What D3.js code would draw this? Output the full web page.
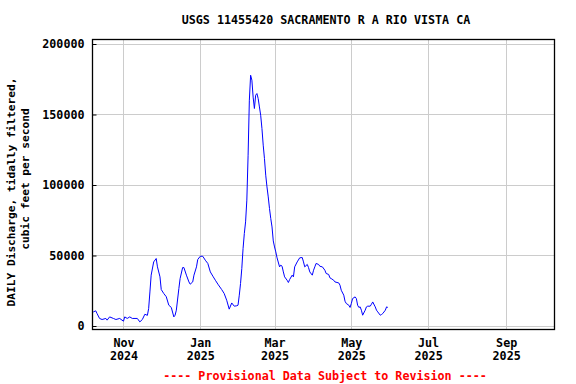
<!DOCTYPE html>
<html>
<head>
<meta charset="utf-8">
<script src="https://cdn.jsdelivr.net/npm/d3@7"></script>
<style>
  body { margin: 0; background: #fff; }
  svg text { font-family: "DejaVu Sans Mono", "Liberation Mono", monospace; font-weight: bold; }
</style>
</head>
<body>
<div id="chart"></div>
<script>
// daily mean discharge (cfs)
const dates = [
  "2024-10-08","2024-10-10","2024-10-11","2024-10-13","2024-10-15","2024-10-18","2024-10-19",
  "2024-10-21","2024-10-24","2024-10-26","2024-10-29","2024-11-01","2024-11-02","2024-11-04",
  "2024-11-06","2024-11-08","2024-11-12","2024-11-14","2024-11-16","2024-11-18","2024-11-20",
  "2024-11-21","2024-11-22","2024-11-23","2024-11-25","2024-11-27","2024-11-28","2024-11-30",
  "2024-12-01","2024-12-03","2024-12-05","2024-12-07","2024-12-09","2024-12-11","2024-12-12",
  "2024-12-13","2024-12-15","2024-12-16","2024-12-18","2024-12-19","2024-12-21","2024-12-23",
  "2024-12-24","2024-12-26","2024-12-27","2024-12-29","2024-12-30","2025-01-01","2025-01-03",
  "2025-01-05","2025-01-07","2025-01-09","2025-01-11","2025-01-13","2025-01-15","2025-01-18",
  "2025-01-20","2025-01-22","2025-01-24","2025-01-26","2025-01-28","2025-01-30","2025-01-31",
  "2025-02-01","2025-02-02","2025-02-03","2025-02-04","2025-02-05","2025-02-06","2025-02-07",
  "2025-02-08","2025-02-09","2025-02-10","2025-02-11","2025-02-12","2025-02-13","2025-02-14",
  "2025-02-15","2025-02-16","2025-02-17","2025-02-18","2025-02-19","2025-02-20","2025-02-21",
  "2025-02-22","2025-02-23","2025-02-24","2025-02-25","2025-02-26","2025-02-27","2025-02-28",
  "2025-03-01","2025-03-02","2025-03-03","2025-03-05","2025-03-06","2025-03-07","2025-03-08",
  "2025-03-09","2025-03-11","2025-03-12","2025-03-13","2025-03-15","2025-03-16","2025-03-17",
  "2025-03-19","2025-03-21","2025-03-23","2025-03-24","2025-03-25","2025-03-27","2025-03-28",
  "2025-03-29","2025-03-31","2025-04-01","2025-04-02","2025-04-03","2025-04-05","2025-04-06",
  "2025-04-08","2025-04-10","2025-04-11","2025-04-13","2025-04-14","2025-04-15","2025-04-17",
  "2025-04-18","2025-04-21","2025-04-22","2025-04-23","2025-04-25","2025-04-26","2025-04-27",
  "2025-04-29","2025-04-30","2025-05-01","2025-05-02","2025-05-04","2025-05-05","2025-05-06",
  "2025-05-07","2025-05-08","2025-05-09","2025-05-10","2025-05-12","2025-05-13","2025-05-14",
  "2025-05-16","2025-05-17","2025-05-18","2025-05-20","2025-05-21","2025-05-22","2025-05-24",
  "2025-05-25","2025-05-26","2025-05-28","2025-05-29","2025-05-30"
];
const flow = [
  9600, 10400, 8500, 5000, 4250, 5000, 3800,
  6100, 5000, 4250, 5000, 3050, 6100, 5000,
  6100, 5000, 5000, 2550, 4250, 8000, 7200,
  12000, 23800, 35700, 45100, 47500, 41600, 34500,
  25500, 22700, 20400, 14400, 12800, 6100, 7300,
  10850, 26200, 33300, 41100, 41100, 35700, 30900,
  29300, 30900, 35700, 41600, 46800, 49100, 49100,
  46300, 44000, 38000, 35000, 32100, 29300, 25500,
  22700, 17900, 11600, 16000, 13700, 14000, 14400,
  21500, 29800, 40400, 54600, 65200, 73500, 88900,
  120800, 159800, 177500, 174000, 162000, 153900, 163300,
  164500, 161000, 155000, 149100, 139700, 127900, 118400,
  106600, 98300, 91200, 83000, 75900, 69900, 60000,
  55700, 52200, 48000, 41600, 42800, 42000, 38000,
  34500, 32100, 30500, 32600, 35700, 34500, 41600,
  45100, 48000, 48200, 45100, 41600, 43300, 41100,
  38000, 35700, 39200, 41600, 44000, 43300, 42000,
  41600, 39200, 36900, 36200, 33800, 33300, 32100,
  30900, 30200, 28600, 25000, 21500, 17200, 15600,
  14400, 12800, 15600, 19100, 20300, 19100, 14400,
  12800, 13200, 10850, 7300, 10850, 13200, 13700,
  13700, 15100, 16700, 13200, 10850, 9650, 7300,
  7800, 8500, 10850, 13200, 12800
];
const yTicks = [0, 50000, 100000, 150000, 200000];
const xTicks = ["2024-11-01", "2025-01-01", "2025-03-01", "2025-05-01", "2025-07-01", "2025-09-01"];

const title = "USGS 11455420 SACRAMENTO R A RIO VISTA CA";
const yLabel = ["DAILY Discharge, tidally filtered,", "cubic feet per second"];
const footer = "---- Provisional Data Subject to Revision ----";

const width = 576, height = 384;
const box = { left: 92, right: 554, top: 39, bottom: 329 };

const parse = d3.utcParse("%Y-%m-%d");
const data = dates.map((d, i) => ({ date: parse(d), value: flow[i] }));

const x = d3.scaleUtc()
  .domain([Date.UTC(2024, 9, 7), Date.UTC(2025, 9, 9)])
  .range([box.left, box.right]);
const y = d3.scaleLinear()
  .domain([0, 200000])
  .range([325.5, 43.5]);

const svg = d3.select("#chart").append("svg")
  .attr("width", width)
  .attr("height", height);

// gridlines
svg.append("g")
  .selectAll("line.hgrid")
  .data(yTicks)
  .join("line")
  .attr("x1", box.left)
  .attr("x2", box.right)
  .attr("y1", (d) => Math.round(y(d)) + 0.5)
  .attr("y2", (d) => Math.round(y(d)) + 0.5)
  .attr("stroke", "#cccccc");
svg.append("g")
  .selectAll("line.vgrid")
  .data(xTicks.map(parse))
  .join("line")
  .attr("x1", (d) => Math.round(x(d)) + 0.5)
  .attr("x2", (d) => Math.round(x(d)) + 0.5)
  .attr("y1", box.top)
  .attr("y2", box.bottom)
  .attr("stroke", "#cccccc");

// data line
svg.append("path")
  .datum(data)
  .attr("fill", "none")
  .attr("stroke", "#0000ff")
  .attr("stroke-width", 1)
  .attr("d", d3.line().x((d) => x(d.date)).y((d) => y(d.value)));

// frame
svg.append("rect")
  .attr("x", box.left + 0.5)
  .attr("y", box.top + 0.5)
  .attr("width", box.right - box.left)
  .attr("height", box.bottom - box.top)
  .attr("fill", "none")
  .attr("stroke", "#000")
  .attr("stroke-width", 1.3);

// y axis: inward ticks, labels left
const yAxis = svg.append("g")
  .attr("transform", `translate(${box.left + 0.5},0.5)`)
  .call(d3.axisLeft(y).tickValues(yTicks).tickSizeInner(-4).tickSizeOuter(0).tickPadding(8).tickFormat(d3.format("d")));
yAxis.select(".domain").remove();
yAxis.selectAll("line").attr("stroke", "#000");
yAxis.selectAll("text")
  .attr("fill", "#000")
  .style("font-size", "11.7px");

// x axis: month over year
const xAxis = svg.append("g")
  .attr("transform", `translate(0,${box.bottom})`)
  .call(d3.axisBottom(x).tickValues(xTicks.map(parse)).tickSize(0).tickFormat(""));
xAxis.select(".domain").remove();
xAxis.selectAll(".tick").each(function (d) {
  const t = d3.select(this).select("text")
    .attr("y", 0)
    .attr("dy", null)
    .attr("fill", "#000")
    .style("font-size", "11.7px");
  t.append("tspan").attr("x", 0).attr("y", 18).text(d3.utcFormat("%b")(d));
  t.append("tspan").attr("x", 0).attr("y", 31).text(d3.utcFormat("%Y")(d));
});

// title
svg.append("text")
  .attr("x", 326)
  .attr("y", 24)
  .attr("text-anchor", "middle")
  .style("font-size", "11.7px")
  .text(title);

// y label, two rotated lines
svg.append("text")
  .attr("transform", "translate(15,192) rotate(-90)")
  .attr("text-anchor", "middle")
  .style("font-size", "11.2px")
  .text(yLabel[0]);
svg.append("text")
  .attr("transform", "translate(29,179) rotate(-90)")
  .attr("text-anchor", "middle")
  .style("font-size", "11.2px")
  .text(yLabel[1]);

// provisional note
svg.append("text")
  .attr("x", 325)
  .attr("y", 380)
  .attr("text-anchor", "middle")
  .attr("fill", "#ff0000")
  .style("font-size", "11.7px")
  .text(footer);
</script>
</body>
</html>
